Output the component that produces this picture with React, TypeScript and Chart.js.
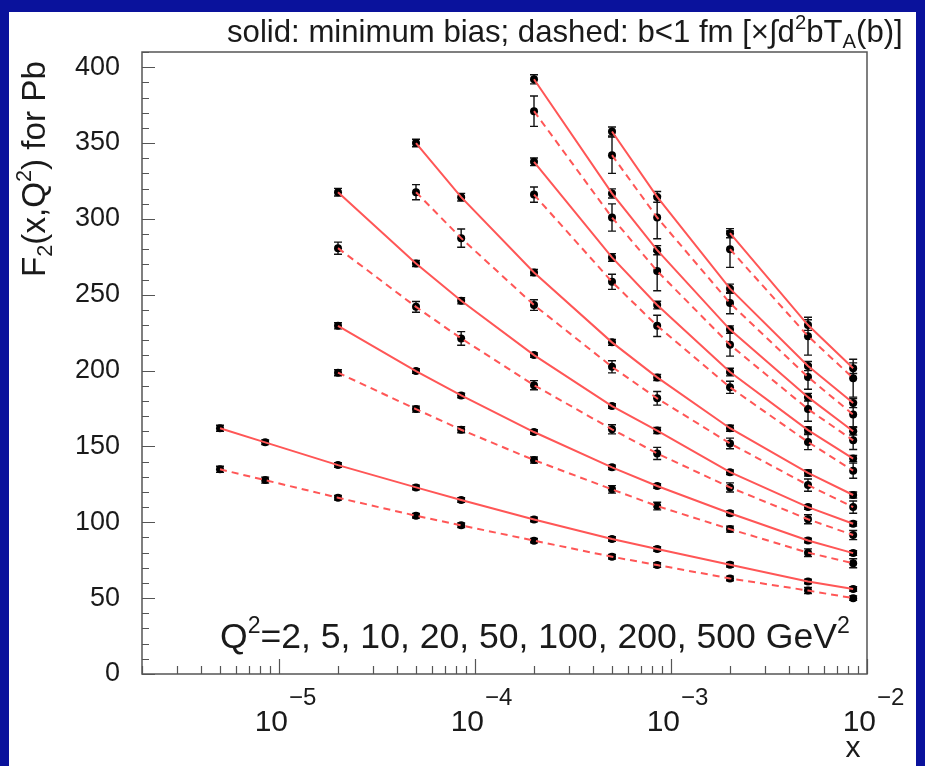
import React, { useEffect, useRef } from "react";
import { Chart, registerables } from "chart.js";

Chart.register(...registerables);

// Bjorken-x grid on which F2 is evaluated
const xValues = [5e-6, 8.5e-6, 2e-5, 5e-5, 8.5e-5, 2e-4, 5e-4, 8.5e-4, 2e-3, 5e-3, 8.5e-3];
const q2Values = [2, 5, 10, 20, 50, 100, 200, 500];
// index into xValues where each Q² curve begins
const firstX = [0, 2, 2, 3, 5, 5, 6, 8];

// minimum bias (solid)
const minBiasQ2_2 = [162, 152.7, 137.7, 123, 114.7, 101.9, 89, 82.4, 72, 61, 56];
const minBiasQ2_5 = [229.5, 199.7, 183.6, 159.5, 136.2, 123.9, 106, 88, 79.7];
const minBiasQ2_10 = [317.6, 270.6, 246, 210.2, 176.6, 160.5, 133, 110, 99];
const minBiasQ2_20 = [350, 314.3, 264.7, 218.6, 195.5, 162, 132.5, 118];
const minBiasQ2_50 = [337.6, 274.6, 243.2, 199, 160.8, 142];
const minBiasQ2_100 = [392, 316.8, 279.4, 227, 182.5, 160];
const minBiasQ2_200 = [357.6, 314.5, 254, 203, 178.6];
const minBiasQ2_500 = [290.6, 230, 201.6];

const minBiasErrQ2_2 = [2, 1.5, 1.5, 1.5, 1.5, 1.5, 1.5, 1.5, 1.5, 1.5, 1.5];
const minBiasErrQ2_5 = [2, 1.5, 1.5, 1.5, 1.5, 1.5, 1.5, 1.5, 1.5];
const minBiasErrQ2_10 = [2.5, 2, 2, 1.5, 1.5, 2, 1.5, 1.5, 1.5];
const minBiasErrQ2_20 = [2.5, 2.5, 2, 2, 2, 2, 2, 2];
const minBiasErrQ2_50 = [2.5, 2.5, 2.5, 2.5, 2, 2];
const minBiasErrQ2_100 = [3, 3, 3, 2.5, 2.5, 2.5];
const minBiasErrQ2_200 = [3, 3.5, 3, 3, 3];
const minBiasErrQ2_500 = [3, 3.5, 3.5];

// b < 1 fm, scaled by the integral of T_A (dashed)
const centralQ2_2 = [134.9, 127.8, 116.2, 104.3, 98, 87.9, 77.3, 71.8, 63, 55, 50];
const centralQ2_5 = [198.6, 174.6, 161, 141, 121.7, 110.7, 95.5, 80, 73];
const centralQ2_10 = [280.7, 242, 221.2, 190.4, 161.3, 145.4, 123, 102, 91.6];
const centralQ2_20 = [317.6, 287.3, 243.2, 202.5, 181.7, 152, 124.5, 110];
const centralQ2_50 = [316, 258.5, 229.5, 189, 152.9, 134];
const centralQ2_100 = [371, 300.9, 265.6, 217, 174.6, 154];
const centralQ2_200 = [342, 300.9, 244.5, 195.7, 171];
const centralQ2_500 = [280, 222.7, 195];

const centralErrQ2_2 = [2, 2, 1.5, 1.5, 1.5, 1.5, 1.5, 1.5, 1.5, 2, 1.5];
const centralErrQ2_5 = [2, 2, 2, 2, 2.5, 2.5, 2, 2.5, 3];
const centralErrQ2_10 = [4, 3.5, 4.5, 3, 3, 4, 3, 3, 3];
const centralErrQ2_20 = [5, 6, 3.5, 4, 4.5, 3.5, 4, 4];
const centralErrQ2_50 = [5, 5, 7, 4, 5, 5];
const centralErrQ2_100 = [10, 9, 13, 7.5, 8, 6];
const centralErrQ2_200 = [12, 14, 7, 8, 8];
const centralErrQ2_500 = [12, 12.5, 12.5];

const minBias = [minBiasQ2_2, minBiasQ2_5, minBiasQ2_10, minBiasQ2_20, minBiasQ2_50, minBiasQ2_100, minBiasQ2_200, minBiasQ2_500];
const minBiasErr = [minBiasErrQ2_2, minBiasErrQ2_5, minBiasErrQ2_10, minBiasErrQ2_20, minBiasErrQ2_50, minBiasErrQ2_100, minBiasErrQ2_200, minBiasErrQ2_500];
const central = [centralQ2_2, centralQ2_5, centralQ2_10, centralQ2_20, centralQ2_50, centralQ2_100, centralQ2_200, centralQ2_500];
const centralErr = [centralErrQ2_2, centralErrQ2_5, centralErrQ2_10, centralErrQ2_20, centralErrQ2_50, centralErrQ2_100, centralErrQ2_200, centralErrQ2_500];

// axis ranges and labels
const xMin = 2e-6;
const xMax = 1e-2;
const yMin = 0;
const yMax = 410;
const yTickStep = 50;
const xDecadeExponents = [-5, -4, -3, -2];

const FONT = '"Liberation Sans", Arial, Helvetica, sans-serif';
const TEXT = "#1a1a1a";
const RED = "#ff5656";
const BLUE = "#0a129c";

type Part = { t: string; s?: "sup" | "sub" };

function partFont(size: number, p: Part) {
  return `${p.s ? size * 0.65 : size}px ${FONT}`;
}

function richWidth(ctx: CanvasRenderingContext2D, parts: Part[], size: number) {
  let w = 0;
  for (const p of parts) {
    ctx.font = partFont(size, p);
    w += ctx.measureText(p.t).width;
  }
  return w;
}

function drawRich(ctx: CanvasRenderingContext2D, parts: Part[], x: number, y: number, size: number) {
  let cx = x;
  ctx.textBaseline = "alphabetic";
  ctx.textAlign = "left";
  for (const p of parts) {
    ctx.font = partFont(size, p);
    const dy = p.s === "sup" ? -size * 0.42 : p.s === "sub" ? size * 0.2 : 0;
    ctx.fillText(p.t, cx, y + dy);
    cx += ctx.measureText(p.t).width;
  }
}

function fitSize(ctx: CanvasRenderingContext2D, parts: Part[], width: number) {
  return (width / richWidth(ctx, parts, 100)) * 100;
}

const titleParts: Part[] = [
  { t: "solid: minimum bias; dashed: b<1 fm [\u00d7\u222bd" },
  { t: "2", s: "sup" },
  { t: "bT" },
  { t: "A", s: "sub" },
  { t: "(b)]" },
];
const yTitleParts: Part[] = [
  { t: "F" },
  { t: "2", s: "sub" },
  { t: "(x,Q" },
  { t: "2", s: "sup" },
  { t: ") for Pb" },
];
const q2Parts: Part[] = [
  { t: "Q" },
  { t: "2", s: "sup" },
  { t: "=" + q2Values.join(", ") + " GeV" },
  { t: "2", s: "sup" },
];

const decorations = {
  id: "decorations",
  beforeDraw(chart: any) {
    const { ctx, width, height } = chart;
    ctx.save();
    ctx.fillStyle = BLUE;
    ctx.fillRect(0, 0, width, height);
    ctx.fillStyle = "#ffffff";
    ctx.fillRect(9, 12, width - 18, height - 12);
    ctx.restore();
  },
  beforeDatasetsDraw(chart: any) {
    const { ctx } = chart;
    const ys = chart.scales.y;
    ctx.save();
    ctx.strokeStyle = "#111";
    ctx.lineWidth = 1.4;
    chart.data.datasets.forEach((ds: any, i: number) => {
      if (!ds.errors) return;
      const meta = chart.getDatasetMeta(i);
      meta.data.forEach((el: any, j: number) => {
        const v = ds.data[j].y;
        const e = ds.errors[j];
        const top = ys.getPixelForValue(v + e);
        const bot = ys.getPixelForValue(v - e);
        ctx.beginPath();
        ctx.moveTo(el.x, top);
        ctx.lineTo(el.x, bot);
        ctx.moveTo(el.x - 4, top);
        ctx.lineTo(el.x + 4, top);
        ctx.moveTo(el.x - 4, bot);
        ctx.lineTo(el.x + 4, bot);
        ctx.stroke();
      });
    });
    ctx.restore();
  },
  afterDraw(chart: any) {
    const { ctx, chartArea: a } = chart;
    const xs = chart.scales.x;
    const ys = chart.scales.y;
    ctx.save();
    ctx.strokeStyle = "#555";
    ctx.lineWidth = 1.5;
    ctx.strokeRect(a.left, a.top, a.right - a.left, a.bottom - a.top);

    ctx.beginPath();
    for (let v = yMin; v <= yMax; v += 10) {
      const p = Math.round(ys.getPixelForValue(v)) + 0.5;
      const len = v % yTickStep === 0 ? 13 : 7;
      ctx.moveTo(a.left, p);
      ctx.lineTo(a.left + len, p);
    }
    for (let e = -6; e <= -2; e++) {
      for (let m = 1; m <= 9; m++) {
        const v = m * Math.pow(10, e);
        if (v < xMin * 0.999 || v > xMax * 1.001) continue;
        const p = Math.round(xs.getPixelForValue(v)) + 0.5;
        const len = m === 1 ? 15 : 8;
        ctx.moveTo(p, a.bottom);
        ctx.lineTo(p, a.bottom - len);
      }
    }
    ctx.lineWidth = 1.2;
    ctx.stroke();

    ctx.fillStyle = TEXT;
    // decade labels 10^n
    xDecadeExponents.forEach((ex) => {
      const expText = "\u2212" + Math.abs(ex);
      const base = 30;
      const expSize = 24;
      ctx.font = `${base}px ${FONT}`;
      const w1 = ctx.measureText("10").width;
      ctx.font = `${expSize}px ${FONT}`;
      const w2 = ctx.measureText(expText).width;
      const cx = xs.getPixelForValue(Math.pow(10, ex)) + 6;
      const x0 = cx - (w1 + w2) / 2;
      ctx.textAlign = "left";
      ctx.textBaseline = "alphabetic";
      ctx.font = `${base}px ${FONT}`;
      ctx.fillText("10", x0, 731);
      ctx.font = `${expSize}px ${FONT}`;
      ctx.fillText(expText, x0 + w1 + 1, 705);
    });

    // axis title x
    ctx.font = `30px ${FONT}`;
    ctx.textAlign = "center";
    ctx.fillText("x", 853, 757);

    // top title
    const tSize = fitSize(ctx, titleParts, 676);
    drawRich(ctx, titleParts, 227, 42, tSize);

    // Q² list inside the frame
    const qSize = fitSize(ctx, q2Parts, 630);
    drawRich(ctx, q2Parts, 220, 648, qSize);

    // vertical axis title
    const ySize = fitSize(ctx, yTitleParts, 216);
    const yw = richWidth(ctx, yTitleParts, ySize);
    ctx.save();
    ctx.translate(45, 169);
    ctx.rotate(-Math.PI / 2);
    drawRich(ctx, yTitleParts, -yw / 2, 0, ySize);
    ctx.restore();

    ctx.restore();
  },
};

export default function App() {
  const canvasRef = useRef<HTMLCanvasElement | null>(null);

  useEffect(() => {
    document.body.style.margin = "0";
    const canvas = canvasRef.current;
    if (!canvas) return;

    const datasets: any[] = [];
    q2Values.forEach((q, i) => {
      const xs = xValues.slice(firstX[i], firstX[i] + minBias[i].length);
      const solid = xs.map((x, j) => ({ x, y: minBias[i][j] }));
      const dashed = xs.map((x, j) => ({ x, y: central[i][j] }));
      datasets.push({
        type: "line",
        label: `Q²=${q} minimum bias`,
        data: solid,
        borderColor: RED,
        borderWidth: 2,
        pointRadius: 0,
        tension: 0,
        fill: false,
        order: 1,
      });
      datasets.push({
        type: "line",
        label: `Q²=${q} b<1 fm`,
        data: dashed,
        borderColor: RED,
        borderWidth: 2,
        borderDash: [7, 5],
        pointRadius: 0,
        tension: 0,
        fill: false,
        order: 1,
      });
      datasets.push({
        type: "line",
        label: `Q²=${q} minimum bias points`,
        data: solid,
        showLine: false,
        pointRadius: 4,
        pointBackgroundColor: "#000",
        pointBorderWidth: 0,
        errors: minBiasErr[i],
        order: 2,
      });
      datasets.push({
        type: "line",
        label: `Q²=${q} b<1 fm points`,
        data: dashed,
        showLine: false,
        pointRadius: 4,
        pointBackgroundColor: "#000",
        pointBorderWidth: 0,
        errors: centralErr[i],
        order: 2,
      });
    });

    const chart = new Chart(canvas, {
      type: "line",
      data: { datasets },
      plugins: [decorations],
      options: {
        animation: false,
        responsive: false,
        devicePixelRatio: 1,
        layout: { padding: { left: 0, right: 58, top: 52, bottom: 0 } },
        plugins: { legend: { display: false }, tooltip: { enabled: false } },
        scales: {
          x: {
            type: "logarithmic",
            min: xMin,
            max: xMax,
            grid: { display: false, drawTicks: false },
            border: { display: false },
            ticks: { display: false },
            afterFit: (s: any) => {
              s.height = 92;
            },
          },
          y: {
            type: "linear",
            min: yMin,
            max: yMax,
            grid: { display: false, drawTicks: false },
            border: { display: false },
            ticks: {
              stepSize: yTickStep,
              includeBounds: false,
              padding: 22,
              color: TEXT,
              font: { family: FONT, size: 27 },
              callback: (v: any) => (Number(v) % yTickStep === 0 ? String(v) : ""),
            },
            afterFit: (s: any) => {
              s.width = 142;
            },
          },
        },
      } as any,
    });

    return () => chart.destroy();
  }, []);

  return (
    <div style={{ position: "absolute", left: 0, top: 0, width: 925, height: 766 }}>
      <canvas ref={canvasRef} width={925} height={766} style={{ display: "block" }} />
    </div>
  );
}
